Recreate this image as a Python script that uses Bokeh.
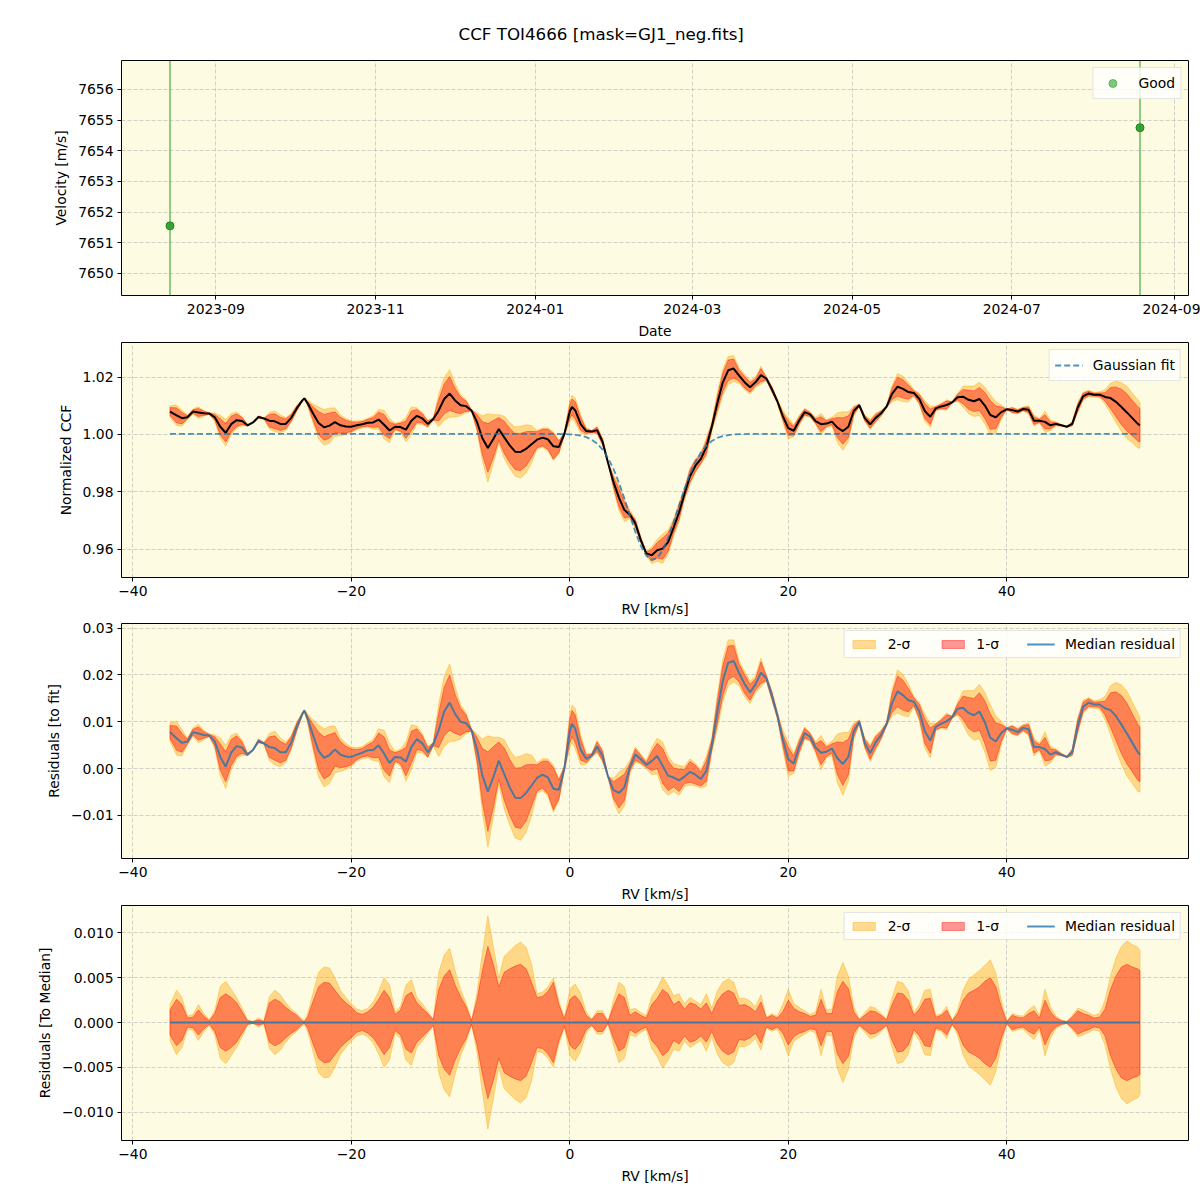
import numpy as np
from datetime import datetime, timezone
from bokeh.plotting import figure
from bokeh.layouts import column
from bokeh.models import (Range1d, FixedTicker, CustomJSTickFormatter, Legend,
                          LegendItem, Span, Title)
from bokeh.embed import file_html
from bokeh.resources import INLINE

# ---------------- data ----------------
obs_dates = ["2023-08-14T12:00", "2024-08-19T00:00"]
obs_velocity = [7651.55, 7654.75]

rv = [
    -36.6, -36.0, -35.5, -35.0, -34.5, -34.0, -33.5, -33.0, -32.5, -32.0,
    -31.5, -31.0, -30.5, -30.0, -29.5, -29.0, -28.5, -28.0, -27.5, -27.0,
    -26.5, -26.0, -25.5, -25.0, -24.5, -24.3, -24.0, -23.5, -23.0, -22.5, -22.0,
    -21.5, -21.0, -20.5, -20.0, -19.5, -19.0, -18.5, -18.0, -17.5, -17.0,
    -16.5, -16.0, -15.5, -15.0, -14.5, -14.0, -13.5, -13.0, -12.5, -12.0,
    -11.5, -11.0, -10.5, -10.0, -9.5, -9.0, -8.5, -8.0, -7.5, -7.0,
    -6.5, -6.0, -5.5, -5.0, -4.5, -4.0, -3.5, -3.0, -2.5, -2.0,
    -1.5, -1.0, -0.5, 0.0, 0.2, 0.5, 1.0, 1.5, 2.0, 2.5, 3.0,
    3.5, 4.0, 4.5, 5.0, 5.5, 6.0, 6.5, 7.0, 7.5, 8.0,
    8.5, 9.0, 9.5, 10.0, 10.5, 11.0, 11.5, 12.0, 12.5, 13.0,
    13.5, 14.0, 14.5, 15.0, 15.5, 16.0, 16.5, 17.0, 17.5, 18.0,
    18.5, 19.0, 19.5, 20.0, 20.5, 21.0, 21.5, 22.0, 22.5, 23.0,
    23.5, 24.0, 24.5, 25.0, 25.5, 26.0, 26.5, 27.0, 27.5, 28.0,
    28.5, 29.0, 29.5, 30.0, 30.5, 31.0, 31.5, 32.0, 32.5, 33.0,
    33.5, 34.0, 34.5, 35.0, 35.5, 36.0, 36.5, 37.0, 37.5, 38.0,
    38.5, 39.0, 39.5, 40.0, 40.5, 41.0, 41.5, 42.0, 42.5, 43.0,
    43.5, 44.0, 44.5, 45.0, 45.5, 46.0, 46.5, 47.0, 47.5, 48.0,
    48.5, 49.0, 49.5, 50.0, 50.5, 51.0, 51.5, 52.0, 52.2,
]

# median residual with respect to the Gaussian fit
median_residual = [
    0.0078, 0.0065, 0.0055, 0.0058, 0.0078, 0.0075, 0.0072, 0.0071, 0.0058, 0.0025,
    0.0004, 0.0034, 0.0048, 0.0045, 0.0030, 0.0040, 0.0059, 0.0054, 0.0046, 0.0044,
    0.0035, 0.0035, 0.0056, 0.0089, 0.0116, 0.0124, 0.0107, 0.0071, 0.0038, 0.0023, 0.0029,
    0.0041, 0.0030, 0.0026, 0.0025, 0.0030, 0.0034, 0.0039, 0.0040, 0.0050, 0.0032,
    0.0012, 0.0025, 0.0024, 0.0015, 0.0046, 0.0063, 0.0054, 0.0035, 0.0052, 0.0082,
    0.0122, 0.0141, 0.0117, 0.0100, 0.0097, 0.0082, 0.0042, -0.0015, -0.0049, -0.0018,
    0.0017, -0.0012, -0.0040, -0.0062, -0.0063, -0.0052, -0.0036, -0.0020, -0.0013, -0.0019,
    -0.0043, -0.0045, 0.0000, 0.0080, 0.0096, 0.0085, 0.0040, 0.0021, 0.0028, 0.0047, 0.0027,
    -0.0017, -0.0046, -0.0052, -0.0040, 0.0003, 0.0030, 0.0020, 0.0008, 0.0016, 0.0027,
    0.0006, -0.0015, -0.0019, -0.0025, -0.0017, -0.0007, -0.0013, -0.0022, -0.0005, 0.0050,
    0.0120, 0.0187, 0.0226, 0.0230, 0.0204, 0.0181, 0.0163, 0.0180, 0.0205, 0.0193,
    0.0156, 0.0114, 0.0062, 0.0020, 0.0011, 0.0047, 0.0076, 0.0068, 0.0045, 0.0034,
    0.0036, 0.0043, 0.0022, 0.0010, 0.0025, 0.0080, 0.0100, 0.0055, 0.0033, 0.0056,
    0.0072, 0.0095, 0.0140, 0.0165, 0.0157, 0.0146, 0.0143, 0.0122, 0.0080, 0.0060,
    0.0089, 0.0096, 0.0101, 0.0110, 0.0128, 0.0130, 0.0119, 0.0114, 0.0122, 0.0099,
    0.0066, 0.0058, 0.0076, 0.0086, 0.0083, 0.0078, 0.0087, 0.0084, 0.0046, 0.0046,
    0.0042, 0.0030, 0.0035, 0.0030, 0.0025, 0.0035, 0.0092, 0.0132, 0.0141, 0.0137,
    0.0137, 0.0129, 0.0125, 0.0112, 0.0094, 0.0075, 0.0055, 0.0035, 0.0030,
]

# half widths of the 1-sigma and 2-sigma bands around the median
sigma1 = [
    0.0014, 0.0026, 0.0020, 0.0005, 0.0006, 0.0014, 0.0007, 0.0002, 0.0010, 0.0028,
    0.0032, 0.0028, 0.0022, 0.0012, 0.0002, 0.0001, 0.0003, 0.0001, 0.0022, 0.0026,
    0.0023, 0.0017, 0.0012, 0.0008, 0.0002, 0.0001, 0.0006, 0.0024, 0.0040, 0.0045, 0.0044,
    0.0036, 0.0028, 0.0022, 0.0017, 0.0011, 0.0009, 0.0012, 0.0017, 0.0026, 0.0036,
    0.0028, 0.0009, 0.0014, 0.0030, 0.0034, 0.0022, 0.0016, 0.0010, 0.0003, 0.0037,
    0.0052, 0.0059, 0.0042, 0.0029, 0.0018, 0.0002, 0.0025, 0.0058, 0.0085, 0.0065,
    0.0040, 0.0056, 0.0060, 0.0063, 0.0065, 0.0060, 0.0045, 0.0028, 0.0029, 0.0035,
    0.0045, 0.0020, 0.0004, 0.0025, 0.0028, 0.0030, 0.0022, 0.0008, 0.0003, 0.0010, 0.0010,
    0.0001, 0.0018, 0.0032, 0.0028, 0.0008, 0.0012, 0.0008, 0.0005, 0.0020, 0.0027,
    0.0037, 0.0032, 0.0020, 0.0024, 0.0015, 0.0022, 0.0020, 0.0015, 0.0022, 0.0010,
    0.0024, 0.0032, 0.0036, 0.0033, 0.0019, 0.0020, 0.0017, 0.0012, 0.0023, 0.0005,
    0.0008, 0.0005, 0.0012, 0.0025, 0.0016, 0.0012, 0.0010, 0.0007, 0.0008, 0.0026,
    0.0010, 0.0010, 0.0035, 0.0046, 0.0038, 0.0012, 0.0003, 0.0008, 0.0013, 0.0012,
    0.0008, 0.0003, 0.0020, 0.0033, 0.0032, 0.0025, 0.0008, 0.0015, 0.0026, 0.0027,
    0.0006, 0.0008, 0.0014, 0.0002, 0.0010, 0.0025, 0.0033, 0.0036, 0.0040, 0.0046,
    0.0050, 0.0040, 0.0018, 0.0001, 0.0008, 0.0006, 0.0005, 0.0010, 0.0013, 0.0005,
    0.0025, 0.0012, 0.0005, 0.0002, 0.0001, 0.0006, 0.0013, 0.0010, 0.0008, 0.0005,
    0.0006, 0.0015, 0.0037, 0.0052, 0.0062, 0.0065, 0.0062, 0.0060, 0.0058,
]

sigma2 = [
    0.0020, 0.0036, 0.0028, 0.0007, 0.0009, 0.0020, 0.0010, 0.0003, 0.0014, 0.0040,
    0.0046, 0.0037, 0.0028, 0.0016, 0.0003, 0.0001, 0.0005, 0.0002, 0.0029, 0.0036,
    0.0031, 0.0022, 0.0015, 0.0010, 0.0004, 0.0002, 0.0010, 0.0033, 0.0056, 0.0062, 0.0061,
    0.0050, 0.0036, 0.0028, 0.0021, 0.0015, 0.0013, 0.0016, 0.0023, 0.0035, 0.0050,
    0.0042, 0.0012, 0.0018, 0.0042, 0.0048, 0.0028, 0.0021, 0.0012, 0.0004, 0.0056,
    0.0075, 0.0083, 0.0058, 0.0037, 0.0022, 0.0002, 0.0033, 0.0078, 0.0119, 0.0085,
    0.0050, 0.0074, 0.0080, 0.0086, 0.0090, 0.0084, 0.0065, 0.0032, 0.0034, 0.0040,
    0.0050, 0.0024, 0.0006, 0.0036, 0.0040, 0.0043, 0.0032, 0.0012, 0.0004, 0.0013, 0.0013,
    0.0001, 0.0025, 0.0045, 0.0040, 0.0014, 0.0016, 0.0011, 0.0008, 0.0029, 0.0038,
    0.0051, 0.0042, 0.0030, 0.0032, 0.0021, 0.0028, 0.0024, 0.0020, 0.0032, 0.0016,
    0.0035, 0.0045, 0.0049, 0.0045, 0.0027, 0.0027, 0.0024, 0.0018, 0.0031, 0.0006,
    0.0010, 0.0007, 0.0020, 0.0037, 0.0021, 0.0017, 0.0013, 0.0009, 0.0012, 0.0037,
    0.0014, 0.0015, 0.0052, 0.0067, 0.0052, 0.0018, 0.0004, 0.0011, 0.0018, 0.0016,
    0.0010, 0.0004, 0.0028, 0.0046, 0.0044, 0.0035, 0.0011, 0.0020, 0.0036, 0.0037,
    0.0008, 0.0010, 0.0018, 0.0002, 0.0014, 0.0036, 0.0048, 0.0053, 0.0058, 0.0064,
    0.0070, 0.0055, 0.0025, 0.0001, 0.0010, 0.0008, 0.0007, 0.0014, 0.0019, 0.0008,
    0.0037, 0.0018, 0.0007, 0.0003, 0.0001, 0.0008, 0.0016, 0.0014, 0.0011, 0.0008,
    0.0010, 0.0025, 0.0052, 0.0072, 0.0085, 0.0091, 0.0087, 0.0084, 0.0080,
]

# Gaussian fit parameters
gauss_continuum = 1.0002
gauss_depth = 0.0440
gauss_center = 7.6
gauss_sigma = 2.25

date_ticks = ["2023-09-01", "2023-11-01", "2024-01-01", "2024-03-01",
              "2024-05-01", "2024-07-01", "2024-09-01"]
velocity_ticks = [7650, 7651, 7652, 7653, 7654, 7655, 7656]
rv_ticks = [-40, -20, 0, 20, 40]
ccf_ticks = [0.96, 0.98, 1.00, 1.02]
resfit_ticks = [-0.01, 0.0, 0.01, 0.02, 0.03]
resmed_ticks = [-0.010, -0.005, 0.0, 0.005, 0.010]

# ---------------- derived ----------------
x = np.array(rv)
med_r = np.array(median_residual)
s1 = np.array(sigma1)
s2 = np.array(sigma2)
gauss = gauss_continuum - gauss_depth * np.exp(-0.5 * ((x - gauss_center) / gauss_sigma) ** 2)
ccf_med = gauss + med_r


def to_ms(s):
    return datetime.fromisoformat(s).replace(tzinfo=timezone.utc).timestamp() * 1000.0


obs_ms = [to_ms(d) for d in obs_dates]
date_tick_ms = [to_ms(d) for d in date_ticks]

FONT = "DejaVu Sans"
FS = "13.9px"
BG = "#fdfbe2"
FRAME_W = 1067
FRAME_H = 235

rv_span = x[-1] - x[0]
rv_range = (x[0] - 0.05 * rv_span, x[-1] + 0.05 * rv_span)


def make_fig(x_range, y_range, top, bottom, label_standoff=6):
    p = figure(frame_width=FRAME_W, frame_height=FRAME_H,
               min_border_left=121, min_border_right=12,
               min_border_top=top, min_border_bottom=bottom,
               x_range=Range1d(*x_range), y_range=Range1d(*y_range),
               toolbar_location=None, output_backend="svg")
    p.background_fill_color = BG
    p.border_fill_color = "white"
    p.outline_line_color = "black"
    p.outline_line_width = 1
    for ax in (p.xaxis[0], p.yaxis[0]):
        ax.axis_label_text_font = FONT
        ax.axis_label_text_font_size = FS
        ax.axis_label_text_font_style = "normal"
        ax.axis_label_text_color = "black"
        ax.axis_label_standoff = 6
        ax.major_label_text_font = FONT
        ax.major_label_text_font_size = FS
        ax.major_label_text_color = "black"
        ax.major_label_standoff = 4
        ax.major_tick_out = 4
        ax.major_tick_in = 0
        ax.major_tick_line_color = "black"
        ax.minor_tick_line_color = None
        ax.axis_line_color = None
    p.xaxis[0].axis_label_standoff = label_standoff
    for g in p.grid:
        g.grid_line_color = "#b0b0b0"
        g.grid_line_alpha = 0.7
        g.grid_line_dash = "4 2"
        g.grid_line_width = 0.8
    return p


def fmt(decimals):
    return CustomJSTickFormatter(
        code="return tick.toFixed(%d).replace('-', '\u2212');" % decimals)


def style_legend(leg):
    leg.label_text_font = FONT
    leg.label_text_font_size = FS
    leg.label_text_color = "black"
    leg.border_line_color = "#cccccc"
    leg.border_line_width = 1
    leg.background_fill_color = "white"
    leg.background_fill_alpha = 0.8
    leg.margin = 7
    leg.padding = 5
    leg.glyph_width = 28
    leg.label_standoff = 10
    leg.label_height = 16


def band(p, lo, hi, color):
    xs = list(x) + list(x[::-1])
    ys = list(hi) + list(lo[::-1])
    return p.patch(xs, ys, fill_color=color, fill_alpha=0.4,
                   line_color=color, line_alpha=0.4, line_width=1)


# ---------------- panel 1 : velocity vs date ----------------
d_span = obs_ms[-1] - obs_ms[0]
p1 = make_fig((obs_ms[0] - 0.05 * d_span, obs_ms[-1] + 0.05 * d_span),
              (7649.28, 7656.94), 60, 47)
p1.xaxis[0].ticker = FixedTicker(ticks=date_tick_ms)
p1.xaxis[0].formatter = CustomJSTickFormatter(code="""
const d = new Date(tick);
const m = d.getUTCMonth() + 1;
return d.getUTCFullYear() + '-' + (m < 10 ? '0' + m : '' + m);
""")
p1.yaxis[0].ticker = FixedTicker(ticks=velocity_ticks)
p1.yaxis[0].formatter = fmt(0)
p1.xaxis[0].axis_label = "Date"
p1.yaxis[0].axis_label = "Velocity [m/s]"
for t in obs_ms:
    p1.add_layout(Span(location=t, dimension="height", line_color="#2ca02c",
                       line_alpha=0.7, line_width=1.5))
leg_pts = p1.scatter(obs_ms, obs_velocity, size=5, fill_color="#2ca02c",
                     fill_alpha=0.6, line_color="#2ca02c", line_alpha=0.6)
p1.scatter(obs_ms, obs_velocity, size=8, fill_color="#2ca02c", fill_alpha=0.85,
           line_color="#1a7a1a", line_width=1)
leg1 = Legend(items=[LegendItem(label="Good", renderers=[leg_pts])], location="top_right")
style_legend(leg1)
leg1.label_standoff = 12
p1.add_layout(leg1)
p1.add_layout(Title(text="CCF TOI4666 [mask=GJ1_neg.fits]", align="left", offset=337,
                    text_font=FONT, text_font_size="16.7px", text_font_style="normal",
                    text_color="black", standoff=33), "above")

# ---------------- panel 2 : normalized CCF ----------------
p2 = make_fig(rv_range, (0.9501, 1.0321), 0, 41, label_standoff=2)
p2.xaxis[0].ticker = FixedTicker(ticks=rv_ticks)
p2.xaxis[0].formatter = fmt(0)
p2.yaxis[0].ticker = FixedTicker(ticks=ccf_ticks)
p2.yaxis[0].formatter = fmt(2)
p2.xaxis[0].axis_label = "RV [km/s]"
p2.yaxis[0].axis_label = "Normalized CCF"
band(p2, ccf_med - s2, ccf_med + s2, "orange")
band(p2, ccf_med - s1, ccf_med + s1, "red")
p2.line(x, ccf_med, line_color="black", line_width=2)
g_r = p2.line(x, gauss, line_color="#1f77b4", line_alpha=0.8, line_width=1.8,
              line_dash="6 3")
leg2 = Legend(items=[LegendItem(label="Gaussian fit", renderers=[g_r])], location="top_right")
style_legend(leg2)
p2.add_layout(leg2)

# ---------------- panel 3 : residuals to fit ----------------
p3 = make_fig(rv_range, (-0.0192, 0.0310), 4, 47)
p3.xaxis[0].ticker = FixedTicker(ticks=rv_ticks)
p3.xaxis[0].formatter = fmt(0)
p3.yaxis[0].ticker = FixedTicker(ticks=resfit_ticks)
p3.yaxis[0].formatter = fmt(2)
p3.xaxis[0].axis_label = "RV [km/s]"
p3.yaxis[0].axis_label = "Residuals [to fit]"
b2 = band(p3, med_r - s2, med_r + s2, "orange")
b1 = band(p3, med_r - s1, med_r + s1, "red")
m3 = p3.line(x, med_r, line_color="#1f77b4", line_alpha=0.8, line_width=2)
leg3 = Legend(items=[LegendItem(label="2-\u03c3", renderers=[b2]),
                     LegendItem(label="1-\u03c3", renderers=[b1]),
                     LegendItem(label="Median residual", renderers=[m3])],
              location="top_right", orientation="horizontal")
style_legend(leg3)
leg3.glyph_height = 10
leg3.spacing = 28
p3.add_layout(leg3)

# ---------------- panel 4 : residuals to median ----------------
p4 = make_fig(rv_range, (-0.01318, 0.01307), 0, 50)
p4.xaxis[0].ticker = FixedTicker(ticks=rv_ticks)
p4.xaxis[0].formatter = fmt(0)
p4.yaxis[0].ticker = FixedTicker(ticks=resmed_ticks)
p4.yaxis[0].formatter = fmt(3)
p4.xaxis[0].axis_label = "RV [km/s]"
p4.yaxis[0].axis_label = "Residuals [To Median]"
zero = np.zeros_like(x)
c2 = band(p4, -s2, s2, "orange")
c1 = band(p4, -s1, s1, "red")
m4 = p4.line(x, zero, line_color="#1f77b4", line_alpha=0.8, line_width=2)
leg4 = Legend(items=[LegendItem(label="2-\u03c3", renderers=[c2]),
                     LegendItem(label="1-\u03c3", renderers=[c1]),
                     LegendItem(label="Median residual", renderers=[m4])],
              location="top_right", orientation="horizontal")
style_legend(leg4)
leg4.glyph_height = 10
leg4.spacing = 28
p4.add_layout(leg4)

layout = column(p1, p2, p3, p4, spacing=0)
open("out.html", "w").write(file_html(layout, INLINE))
